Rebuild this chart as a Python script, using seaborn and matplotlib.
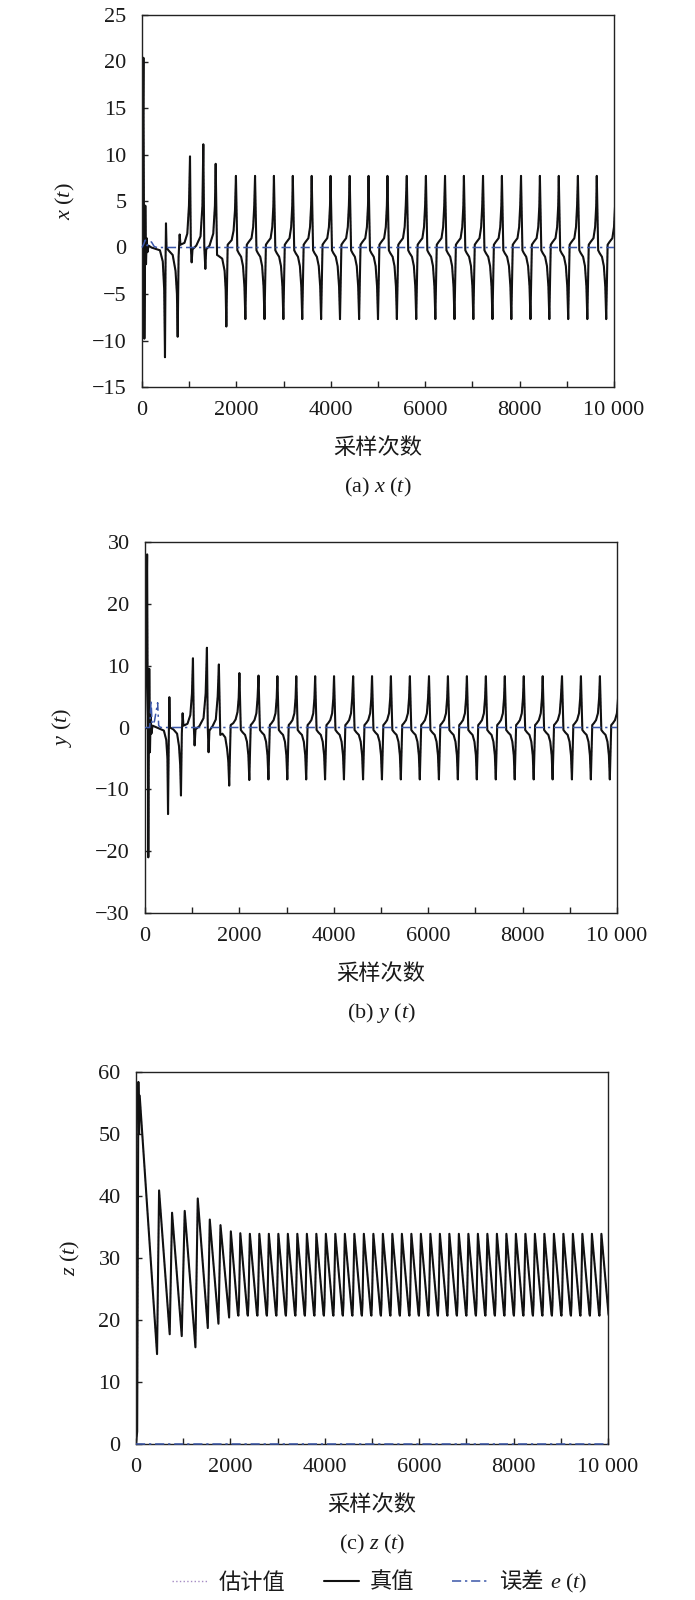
import pandas as pd
import seaborn as sns
import matplotlib.pyplot as plt
from matplotlib.ticker import MultipleLocator, FixedLocator, FixedFormatter
from matplotlib.lines import Line2D

# ---------------- data ----------------
# (a) x(t): start-up part, then settled cycles
x_tr_t = [0, 30, 50, 70, 85, 100, 115, 140, 200, 380, 440, 470, 487, 500, 508, 520,
          560, 650, 710, 740, 756, 775, 798, 815, 900, 960, 995, 1017, 1035, 1052,
          1070, 1150, 1240, 1280, 1299, 1320, 1342, 1360, 1430, 1510, 1545, 1561,
          1590, 1620, 1700, 1750, 1772, 1787, 1815, 1850, 1900, 1940, 1970]
x_tr_v = [1.0, 20.4, -9.8, 4.5, -1.8, 1.0, -0.5, 0.2, 0.0, -0.3, -1.5, -4.5, -11.8, -1.0, 2.6, 0.0,
          -0.3, -0.8, -2.5, -5.0, -9.6, -1.0, 1.4, 0.3, 0.5, 1.5, 4.5, 9.8, 0.0, -1.6,
          -0.2, 0.2, 1.2, 4.5, 11.1, 0.0, -2.3, -0.2, 0.2, 1.5, 4.5, 9.0,
          -0.8, -0.9, -1.2, -2.5, -4.5, -8.5, 0.3, 0.5, 0.8, 1.8, 4.0]
x_pk_t = [1990, 2395, 2795, 3195, 3595, 3995, 4400, 4800, 5200, 5610,
          6015, 6420, 6820, 7225, 7625, 8030, 8430, 8830, 9235, 9635]
x_pk_v = [7.7, 7.7, 7.7, 7.7, 7.7, 7.7, 7.7, 7.7, 7.7, 7.7,
          7.7, 7.7, 7.7, 7.7, 7.7, 7.7, 7.7, 7.7, 7.7, 7.7]
x_tg_v = [-7.7, -7.7, -7.7, -7.7, -7.7, -7.7, -7.7, -7.7, -7.7, -7.7,
          -7.7, -7.7, -7.7, -7.7, -7.7, -7.7, -7.7, -7.7, -7.7, -7.7]
x_dn_dt = [30, 60, 110, 150, 180]
x_dn_v = [-0.3, -0.6, -1.0, -2.0, -4.2]
x_tg_dt = 200
x_up_dt = [230, 270, 330, 365, 388]
x_up_v = [0.3, 0.6, 1.0, 2.2, 4.5]
ex_t = [0, 40, 70, 110, 150, 200, 260, 320, 10000]
ex_v = [0, 0.4, 0.8, 0.2, 0.5, 0.6, 0.1, 0, 0]

# (b) y(t)
y_tr_t = [0, 20, 45, 70, 90, 105, 120, 135, 160, 250, 400, 450, 475, 488, 505, 516, 530,
          600, 680, 720, 745, 762, 780, 797, 815, 900, 960, 995, 1016, 1035, 1051,
          1070, 1150, 1240, 1285, 1312, 1330, 1347, 1365, 1430, 1500, 1540, 1565,
          1595, 1640, 1700, 1740, 1765, 1784, 1815, 1870, 1920, 1960, 1985]
y_tr_v = [2.0, 10.0, 28.0, -21.0, 9.5, -4.0, 2.0, -1.0, 0.3, 0.0, -0.5, -2.0, -5.0, -14.0, -1.0, 4.9, 0.0,
          -0.3, -1.0, -3.0, -6.0, -11.0, -1.0, 2.3, 0.3, 0.6, 2.0, 5.5, 11.2, 0.0, -2.9,
          -0.3, 0.2, 1.5, 5.5, 12.9, 0.0, -4.0, -0.5, 0.2, 1.3, 5.0, 10.2,
          -1.2, -1.0, -1.6, -3.5, -5.5, -9.4, 0.4, 0.7, 1.3, 2.5, 4.8]
y_pk_t = [2000, 2405, 2805, 3205, 3605, 4005, 4410, 4810, 5210, 5612,
          6017, 6418, 6820, 7222, 7623, 8025, 8426, 8835, 9236, 9638]
y_pk_v = [8.8, 8.4, 8.3, 8.3, 8.3, 8.3, 8.3, 8.3, 8.3, 8.3,
          8.3, 8.3, 8.3, 8.3, 8.3, 8.3, 8.3, 8.3, 8.3, 8.3]
y_tg_v = [-8.5, -8.4, -8.4, -8.4, -8.4, -8.4, -8.4, -8.4, -8.4, -8.4,
          -8.4, -8.4, -8.4, -8.4, -8.4, -8.4, -8.4, -8.4, -8.4, -8.4]
y_dn_dt = [30, 70, 120, 160, 190]
y_dn_v = [-0.4, -0.8, -1.2, -2.3, -4.5]
y_tg_dt = 210
y_up_dt = [240, 275, 320, 360, 385]
y_up_v = [0.4, 0.7, 1.2, 2.3, 4.8]
ey_t = [0, 100, 129, 150, 200, 268, 290, 330, 10000]
ey_v = [0, 0, 4.3, 0.5, 1.0, 4.0, 0.3, 0, 0]

# (c) z(t)
z_tr_t = [0, 25, 50, 65, 78, 446, 489, 714, 764, 969, 1032, 1259, 1308,
          1521, 1563, 1747, 1790, 1973]
z_tr_v = [0.0, 2.0, 58.4, 50.0, 56.2, 14.5, 40.9, 17.7, 37.3, 17.4, 37.6, 15.6, 39.6,
          18.7, 36.2, 19.4, 35.3, 20.4]
z_pk_t = [2009, 2210, 2412, 2613, 2814, 3016, 3217, 3418, 3620, 3821,
          4022, 4223, 4425, 4626, 4827, 5029, 5230, 5431, 5633, 5834,
          6035, 6237, 6438, 6639, 6840, 7042, 7243, 7444, 7646, 7847,
          8048, 8250, 8451, 8652, 8854, 9055, 9256, 9457, 9659, 9860]
z_pk_v = [34.3, 34.0, 33.9, 33.9, 33.9, 33.9, 33.9, 33.9, 33.9, 33.9,
          33.9, 33.9, 33.9, 33.9, 33.9, 33.9, 33.9, 33.9, 33.9, 33.9,
          33.9, 33.9, 33.9, 33.9, 33.9, 33.9, 33.9, 33.9, 33.9, 33.9,
          33.9, 33.9, 33.9, 33.9, 33.9, 33.9, 33.9, 33.9, 33.9, 33.9]
z_tg_v = [20.7, 20.7, 20.7, 20.7, 20.7, 20.7, 20.7, 20.7, 20.7, 20.7,
          20.7, 20.7, 20.7, 20.7, 20.7, 20.7, 20.7, 20.7, 20.7, 20.7,
          20.7, 20.7, 20.7, 20.7, 20.7, 20.7, 20.7, 20.7, 20.7, 20.7,
          20.7, 20.7, 20.7, 20.7, 20.7, 20.7, 20.7, 20.7, 20.7, 20.7]
z_dn_dt = [60, 120, 150]
z_dn_v = [28.8, 23.5, 21.0]
z_tg_dt = 160
z_up_dt = [172]
z_up_v = [22.5]
ez_t = [0, 10000]
ez_v = [0, 0]

x_ticks = [0, 2000, 4000, 6000, 8000, 10000]
x_tick_labels = ['0', '2000', '4000', '6000', '8000', '10 000']


def trace(tr_t, tr_v, pk_t, pk_v, tg_v, dn_dt, dn_v, tg_dt, up_dt, up_v):
    t, v = list(tr_t), list(tr_v)
    for p, a, b in zip(pk_t, pk_v, tg_v):
        t.append(p); v.append(a)
        t += [p + d for d in dn_dt]; v += dn_v
        t.append(p + tg_dt); v.append(b)
        t += [p + d for d in up_dt]; v += up_v
    return pd.DataFrame({'t': t, 'v': v})


dfx = trace(x_tr_t, x_tr_v, x_pk_t, x_pk_v, x_tg_v, x_dn_dt, x_dn_v, x_tg_dt, x_up_dt, x_up_v)
dfy = trace(y_tr_t, y_tr_v, y_pk_t, y_pk_v, y_tg_v, y_dn_dt, y_dn_v, y_tg_dt, y_up_dt, y_up_v)
dfz = trace(z_tr_t, z_tr_v, z_pk_t, z_pk_v, z_tg_v, z_dn_dt, z_dn_v, z_tg_dt, z_up_dt, z_up_v)

# ---------------- style ----------------
sns.set_style('white')
plt.rcParams['font.family'] = ['Liberation Serif', 'Noto Sans CJK SC']
plt.rcParams['mathtext.fontset'] = 'custom'
plt.rcParams['mathtext.rm'] = 'Liberation Serif'
plt.rcParams['mathtext.it'] = 'Liberation Serif:italic'
plt.rcParams['axes.edgecolor'] = '#222222'
plt.rcParams['axes.linewidth'] = 1.0

W, H = 695, 1600
fig = plt.figure(figsize=(W / 100, H / 100), dpi=100)

EST_C = '#a58cc4'
TRUE_C = '#111111'
ERR_C = '#3a56a8'
ERR_LS = (0, (6, 2.5, 1.5, 2.5))

panels = [
    # box (left, top, right, bottom px), data, err, ylim, ystep, ylabel, ylabel x, caption
    ((142, 15, 614, 387), dfx, (ex_t, ex_v), (-15, 25), 5, r'$x\ (t)$', -0.163, r'(a) $x\ (t)$'),
    ((145, 542, 617, 913), dfy, (ey_t, ey_v), (-30, 30), 10, r'$y\ (t)$', -0.175, r'(b) $y\ (t)$'),
    ((136, 1072, 608, 1444), dfz, (ez_t, ez_v), (0, 60), 10, r'$z\ (t)$', -0.138, r'(c) $z\ (t)$'),
]

for (l, t, r, b), df, (et, ev), ylim, ystep, ylab, ylx, cap in panels:
    ax = fig.add_axes([l / W, 1 - b / H, (r - l) / W, (b - t) / H])
    sns.lineplot(data=df, x='t', y='v', ax=ax, color=EST_C, linewidth=1.0,
                 linestyle=':', sort=False, estimator=None)
    sns.lineplot(data=df, x='t', y='v', ax=ax, color=TRUE_C, linewidth=1.5,
                 sort=False, estimator=None)
    sns.lineplot(x=et, y=ev, ax=ax, color=ERR_C, linewidth=1.1, linestyle=ERR_LS,
                 sort=False, estimator=None, clip_on=False, zorder=3)
    ax.set_xlim(0, 10000)
    ax.set_ylim(*ylim)
    ax.xaxis.set_major_locator(FixedLocator(x_ticks))
    ax.xaxis.set_major_formatter(FixedFormatter(x_tick_labels))
    ax.xaxis.set_minor_locator(MultipleLocator(1000))
    ax.yaxis.set_major_locator(MultipleLocator(ystep))
    ax.tick_params(axis='both', which='both', direction='in', length=4, width=1.0,
                   colors='#222222', labelcolor='#1a1a1a', labelsize=16,
                   bottom=True, left=True, top=False, right=False)
    ax.tick_params(axis='x', which='major', pad=10)
    ax.tick_params(axis='y', which='major', pad=11)
    ax.set_xlabel('')
    ax.set_ylabel(ylab, fontsize=16, color='#1a1a1a', va='center')
    ax.yaxis.set_label_coords(ylx, 0.5)
    for s in ax.spines.values():
        s.set_visible(True)
    cx = (l + r) / 2 / W
    fig.text(cx, 1 - (b + 62) / H, '采样次数', ha='center', va='center',
             fontsize=16, color='#1a1a1a')
    fig.text(cx, 1 - (b + 100) / H, cap, ha='center', va='center',
             fontsize=16, color='#1a1a1a')

handles = [Line2D([], [], color=EST_C, linestyle=':', linewidth=1.0),
           Line2D([], [], color=TRUE_C, linewidth=1.5),
           Line2D([], [], color=ERR_C, linestyle=ERR_LS, linewidth=1.1)]
labels = ['估计值', '真值', '误差']
leg = fig.legend(handles, labels, loc='center', bbox_to_anchor=(358 / W, 1 - 1583 / H),
                 ncol=3, frameon=False, fontsize=16, handlelength=1.6, handletextpad=0.5,
                 columnspacing=1.7)
for txt in leg.get_texts():
    txt.set_color('#1a1a1a')

# italic e(t) set just after the Chinese word (mathtext has no CJK glyphs)
fig.canvas.draw()
bb = leg.get_texts()[2].get_window_extent()
fig.text((bb.x1 + 6) / W, (bb.y0 + bb.y1) / 2 / H, r'$e\ (t)$',
         ha='left', va='center', fontsize=16, color='#1a1a1a')

fig.savefig('out.png', dpi=100)
